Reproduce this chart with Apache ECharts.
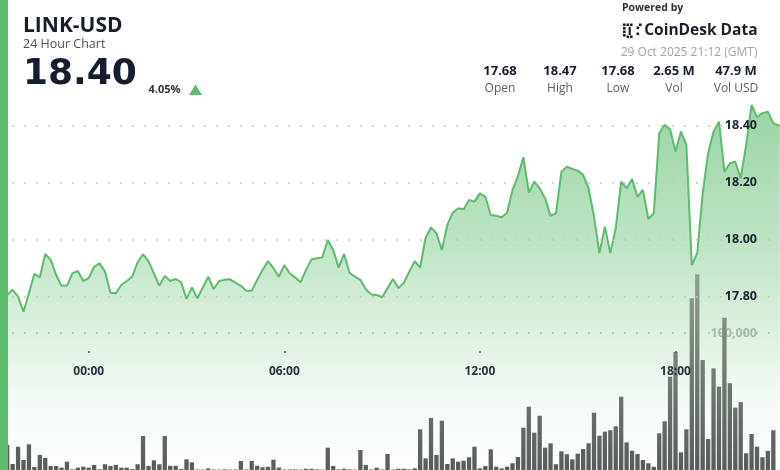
<!DOCTYPE html>
<html>
<head>
<meta charset="utf-8">
<script src="https://cdn.jsdelivr.net/npm/echarts@6.0.0/dist/echarts.min.js"></script>
<style>
html,body{margin:0;padding:0;background:#ffffff;}
#chart{width:780px;height:470px;}
</style>
</head>
<body>
<div id="chart"></div>
<script>
// 10-minute slots, 28 Oct 21:30 -> 29 Oct 21:00
const times = [
 '21:30','21:40','21:50',
 '22:00','22:10','22:20','22:30','22:40','22:50',
 '23:00','23:10','23:20','23:30','23:40','23:50',
 '00:00','00:10','00:20','00:30','00:40','00:50',
 '01:00','01:10','01:20','01:30','01:40','01:50',
 '02:00','02:10','02:20','02:30','02:40','02:50',
 '03:00','03:10','03:20','03:30','03:40','03:50',
 '04:00','04:10','04:20','04:30','04:40','04:50',
 '05:00','05:10','05:20','05:30','05:40','05:50',
 '06:00','06:10','06:20','06:30','06:40','06:50',
 '07:00','07:10','07:20','07:30','07:40','07:50',
 '08:00','08:10','08:20','08:30','08:40','08:50',
 '09:00','09:10','09:20','09:30','09:40','09:50',
 '10:00','10:10','10:20','10:30','10:40','10:50',
 '11:00','11:10','11:20','11:30','11:40','11:50',
 '12:00','12:10','12:20','12:30','12:40','12:50',
 '13:00','13:10','13:20','13:30','13:40','13:50',
 '14:00','14:10','14:20','14:30','14:40','14:50',
 '15:00','15:10','15:20','15:30','15:40','15:50',
 '16:00','16:10','16:20','16:30','16:40','16:50',
 '17:00','17:10','17:20','17:30','17:40','17:50',
 '18:00','18:10','18:20','18:30','18:40','18:50',
 '19:00','19:10','19:20','19:30','19:40','19:50',
 '20:00','20:10','20:20','20:30','20:40','20:50',
 '21:00'
];
const prices = [
 17.806,17.824,17.800,17.747,17.812,17.880,17.868,17.950,17.929,17.876,
 17.838,17.839,17.882,17.890,17.855,17.865,17.905,17.917,17.888,17.814,
 17.812,17.841,17.855,17.870,17.921,17.949,17.925,17.882,17.839,17.873,
 17.855,17.862,17.851,17.792,17.832,17.794,17.832,17.870,17.827,17.855,
 17.859,17.861,17.849,17.838,17.821,17.821,17.859,17.894,17.925,17.900,
 17.870,17.911,17.882,17.867,17.851,17.894,17.931,17.935,17.938,17.999,
 17.964,17.902,17.950,17.884,17.870,17.859,17.826,17.808,17.806,17.798,
 17.830,17.862,17.830,17.849,17.888,17.925,17.902,18.007,18.043,18.023,
 17.964,18.052,18.095,18.111,18.107,18.140,18.134,18.163,18.151,18.087,
 18.084,18.079,18.095,18.175,18.224,18.290,18.166,18.204,18.181,18.146,
 18.084,18.093,18.239,18.257,18.249,18.243,18.228,18.181,18.081,17.953,
 18.046,17.953,18.040,18.204,18.181,18.213,18.151,18.175,18.073,18.093,
 18.374,18.404,18.388,18.310,18.380,18.333,17.911,17.953,18.163,18.304,
 18.380,18.415,18.239,18.269,18.275,18.216,18.333,18.474,18.431,18.445,
 18.450,18.410
];
const lastTime = '21:12';
const lastPrice = 18.40;
const volumes = [
 18300,4400,17000,7300,18800,2200,11000,8800,2900,2900,
 1700,6100,500,1700,2400,1700,3700,500,4200,2900,
 3700,1700,1700,700,4200,24800,2900,7100,4200,24800,
 3100,3100,700,7800,5600,400,300,1200,400,300,
 500,300,400,6600,400,6600,3100,2000,2400,7500,
 1800,400,400,500,300,900,900,400,300,16300,
 2900,400,900,400,300,14600,3700,400,1700,400,
 11700,300,900,900,500,1200,29700,8500,38000,11000,
 36000,4400,8500,6100,6800,9300,17000,1200,2900,15100,
 2400,1200,2400,4900,9500,30900,46200,27200,39600,16300,
 19500,4200,13700,11500,7800,11900,15300,19500,41800,25000,
 28000,29000,31900,53500,20200,14100,11700,7300,4900,2400,
 26800,35600,68100,86100,12900,29700,125300,142900,80300,22600,
 74200,60800,111200,63300,45500,49600,12200,26300,17000,9300,
 13900,29000
];
const priceTicks = [17.8, 18.0, 18.2, 18.4];
const volumeTicks = [100000];
const hourTicks = [0, 6, 12, 18];
const statValues = ['17.68', '18.47', '17.68', '2.65 M', '47.9 M'];
const statLabels = ['Open', 'High', 'Low', 'Vol', 'Vol USD'];
const pair = 'LINK-USD';
const subtitle = '24 Hour Chart';
const currentPrice = '18.40';
const changePct = '4.05%';
const stamp = '29 Oct 2025 21:12 (GMT)';

function toHour(s) {
  const p = s.split(':').map(Number);
  let v = p[0] + p[1] / 60;
  if (v > 21.25) v -= 24; // previous day
  return v;
}
const lineData = times.map((t, i) => [toHour(t), prices[i]]).concat([[toHour(lastTime), lastPrice]]);
const barData = times.map((t, i) => [toHour(t), volumes[i]]);

const FONT = '"Open Sans", "Noto Sans", sans-serif';
const DARK = '#161d2c';
const GREEN = '#5cbb6c';

function txt(x, y, text, font, fill, align) {
  return { type: 'text', x: x, y: y, z: 100, silent: true,
    style: { text: text, font: font, fill: fill,
      align: align || 'left', textAlign: align || 'left',
      verticalAlign: 'middle', textVerticalAlign: 'middle' } };
}

const statCenters = [500, 560, 618, 674, 736];
const graphics = [
  { type: 'rect', shape: { x: 0, y: 0, width: 8, height: 470 }, style: { fill: GREEN }, z: 100, silent: true },
  txt(23, 26, pair, 'bold 21px ' + FONT, DARK),
  txt(23, 44, subtitle, '12.5px ' + FONT, '#4a4f57'),
  txt(23, 75, currentPrice, 'bold 36px "DejaVu Sans", ' + FONT, DARK),
  txt(148.5, 90, changePct, 'bold 11px ' + FONT, '#2b303a'),
  { type: 'polygon', z: 100, silent: true, shape: { points: [[189, 95], [202, 95], [195.5, 84.5]] }, style: { fill: GREEN } },
  txt(622, 8.5, 'Powered by', 'bold 10.5px ' + FONT, '#2b303a'),
  txt(757.5, 31, 'CoinDesk Data', 'bold 15.5px ' + FONT, '#1b1f27', 'right'),
  txt(757.5, 52.5, stamp, '12px ' + FONT, '#a3a3a3', 'right')
];
// CoinDesk logo mark (small squares)
[[623,23.5],[623,27],[623,30.5],[623,34],[626.5,23.5],[630,23.5],[626.5,35.5],[630,35.5],[636.5,26.5],[636.5,32.5],[639,23.5]].forEach(p => {
  graphics.push({ type: 'rect', z: 100, silent: true, shape: { x: p[0], y: p[1], width: 2.6, height: 2.6 }, style: { fill: '#1b1f27' } });
});
graphics.push({ type: 'rect', z: 100, silent: true, shape: { x: 628.6, y: 27, width: 2.2, height: 8 }, style: { fill: '#1b1f27' } });
statValues.forEach((v, i) => {
  graphics.push(txt(statCenters[i], 71.5, v, 'bold 13px ' + FONT, DARK, 'center'));
  graphics.push(txt(statCenters[i], 89, statLabels[i], '12px ' + FONT, '#5a5e66', 'center'));
});

const XMIN = -2.721, XMAX = 21.205;

const chart = echarts.init(document.getElementById('chart'), null, { renderer: 'canvas' });
chart.setOption({
  animation: false,
  backgroundColor: '#ffffff',
  graphic: graphics,
  grid: [
    { left: 0, right: 0, top: 69, bottom: 2.6 },
    { left: 0, right: 0, top: 196, bottom: 0 }
  ],
  xAxis: [
    { type: 'value', gridIndex: 0, min: XMIN, max: XMAX, position: 'bottom', offset: -116.4, z: 6,
      axisLine: { show: false },
      axisTick: { show: true, length: 2, customValues: hourTicks, lineStyle: { color: '#555', width: 1.5 } },
      axisLabel: { show: true, customValues: hourTicks, margin: 15,
        formatter: v => (v < 10 ? '0' : '') + Math.round(v) + ':00',
        fontFamily: FONT, fontWeight: 'bold', fontSize: 12, color: '#2b3140' },
      splitLine: { show: false } },
    { type: 'value', gridIndex: 1, min: XMIN, max: XMAX, show: false }
  ],
  yAxis: [
    { type: 'value', gridIndex: 0, min: 17.2, max: 18.6, interval: 0.2, position: 'right', z: 6,
      axisLine: { show: false }, axisTick: { show: false },
      axisLabel: { inside: true, margin: 23,
        formatter: v => priceTicks.some(t => Math.abs(t - v) < 1e-6) ? v.toFixed(2) : '',
        fontFamily: FONT, fontWeight: 'bold', fontSize: 12.5, color: '#1c2230' },
      splitLine: { show: false } },
    { type: 'value', gridIndex: 1, min: 0, max: 200000, interval: 100000, position: 'right', z: 0,
      axisLine: { show: false }, axisTick: { show: false },
      axisLabel: { inside: true, margin: 23, showMinLabel: false, showMaxLabel: false,
        formatter: v => volumeTicks.indexOf(v) >= 0 ? v.toLocaleString('en-US') : '',
        fontFamily: FONT, fontWeight: 'bold', fontSize: 12.5, color: '#b4bab4' },
      splitLine: { show: true, showMinLine: false, showMaxLine: false,
        lineStyle: { type: [2, 10], color: '#c4c4c4', width: 1.5 } } }
  ],
  series: [
    { type: 'line', xAxisIndex: 0, yAxisIndex: 0, data: lineData, z: 2, showSymbol: false, silent: true,
      lineStyle: { color: GREEN, width: 2 },
      areaStyle: { color: { type: 'linear', x: 0, y: 100, x2: 0, y2: 470, global: true,
        colorStops: [
          { offset: 0, color: 'rgba(92,187,108,0.9)' },
          { offset: 0.18, color: 'rgba(92,187,108,0.75)' },
          { offset: 0.405, color: 'rgba(92,187,108,0.55)' },
          { offset: 0.62, color: 'rgba(92,187,108,0.3)' },
          { offset: 0.81, color: 'rgba(92,187,108,0.1)' },
          { offset: 1, color: 'rgba(92,187,108,0.02)' }
        ] } },
      markLine: { silent: true, symbol: ['none', 'none'], label: { show: false },
        lineStyle: { type: [2, 10], color: '#c4c4c4', width: 1.5 },
        data: priceTicks.map(v => ({ yAxis: v })) } },
    { type: 'bar', xAxisIndex: 1, yAxisIndex: 1, data: barData, barWidth: 4.3, z: 4, silent: true,
      itemStyle: { color: { type: 'linear', x: 0, y: 270, x2: 0, y2: 470, global: true,
        colorStops: [
          { offset: 0, color: '#93a294' },
          { offset: 0.5, color: '#727c73' },
          { offset: 1, color: '#575d58' }
        ] } } }
  ]
});
</script>
</body>
</html>
